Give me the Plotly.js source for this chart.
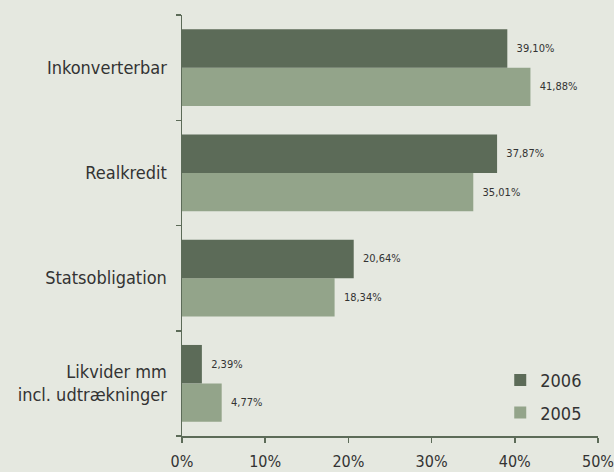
<!DOCTYPE html>
<html>
<head>
<meta charset="utf-8">
<script src="https://cdn.plot.ly/plotly-3.0.1.min.js"></script>
<style>
  html, body { margin: 0; padding: 0; background: #e5e8e0; }
  #chart { width: 614px; height: 472px; }
</style>
</head>
<body>
<div id="chart"></div>
<script>
// Categories listed bottom-to-top (Plotly category axes grow upward)
const categories = [
  "Likvider mm<br>incl. udtrækninger",
  "Statsobligation",
  "Realkredit",
  "Inkonverterbar"
];
const values2005 = [4.77, 18.34, 35.01, 41.88];
const values2006 = [2.39, 20.64, 37.87, 39.10];
const xTickValues = [0, 10, 20, 30, 40, 50];
const xTickLabels = ["0%", "10%", "20%", "30%", "40%", "50%"];

const axisColor = "#5c6b58";
const textColor = "#333333";
const fontFamily = "'DejaVu Sans Condensed', 'DejaVu Sans', sans-serif";

// Danish-style percentage label, e.g. 39,10%
const fmt = v => "\u00a0\u00a0" + v.toFixed(2).replace(".", ",") + "%";

const traces = [
  {
    type: "bar",
    orientation: "h",
    name: "2005",
    legendgroup: "y2005",
    legendrank: 2,
    y: categories,
    x: values2005,
    marker: { color: "#93a48a" },
    text: values2005.map(fmt),
    textposition: "outside",
    cliponaxis: false,
    textfont: { size: 11, color: textColor, family: fontFamily },
    hoverinfo: "none"
  },
  {
    type: "bar",
    orientation: "h",
    name: "2006",
    legendgroup: "y2006",
    legendrank: 1,
    y: categories,
    x: values2006,
    marker: { color: "#5c6b58" },
    text: values2006.map(fmt),
    textposition: "outside",
    cliponaxis: false,
    textfont: { size: 11, color: textColor, family: fontFamily },
    hoverinfo: "none"
  }
];

const layout = {
  width: 614,
  height: 472,
  margin: { l: 182, r: 16, t: 15, b: 36 },
  paper_bgcolor: "#e5e8e0",
  plot_bgcolor: "#e5e8e0",
  font: { family: fontFamily, color: textColor, size: 18 },
  barmode: "group",
  bargap: 0.27,
  bargroupgap: 0,
  showlegend: true,
  legend: {
    x: 0.765,
    y: 0.176,
    xanchor: "left",
    yanchor: "top",
    bgcolor: "rgba(0,0,0,0)",
    traceorder: "grouped",
    tracegroupgap: 6,
    itemwidth: 30,
    font: { size: 18, color: textColor, family: fontFamily }
  },
  xaxis: {
    range: [0, 50],
    tickvals: xTickValues,
    ticktext: xTickLabels,
    showgrid: false,
    zeroline: false,
    showline: true,
    linecolor: axisColor,
    linewidth: 1.5,
    ticks: "outside",
    ticklen: 5,
    tickwidth: 1.5,
    tickcolor: axisColor,
    ticklabelstandoff: 5,
    ticklabeloverflow: "allow",
    tickfont: { size: 16 },
    fixedrange: true
  },
  yaxis: {
    type: "category",
    categoryorder: "array",
    categoryarray: categories,
    showgrid: false,
    zeroline: false,
    showline: true,
    linecolor: axisColor,
    linewidth: 1.5,
    ticks: "outside",
    tickson: "boundaries",
    ticklen: 5,
    tickwidth: 1.5,
    tickcolor: axisColor,
    ticklabelstandoff: 10,
    tickfont: { size: 18 },
    fixedrange: true
  }
};

Plotly.newPlot("chart", traces, layout, { displayModeBar: false, staticPlot: true });
</script>
</body>
</html>
